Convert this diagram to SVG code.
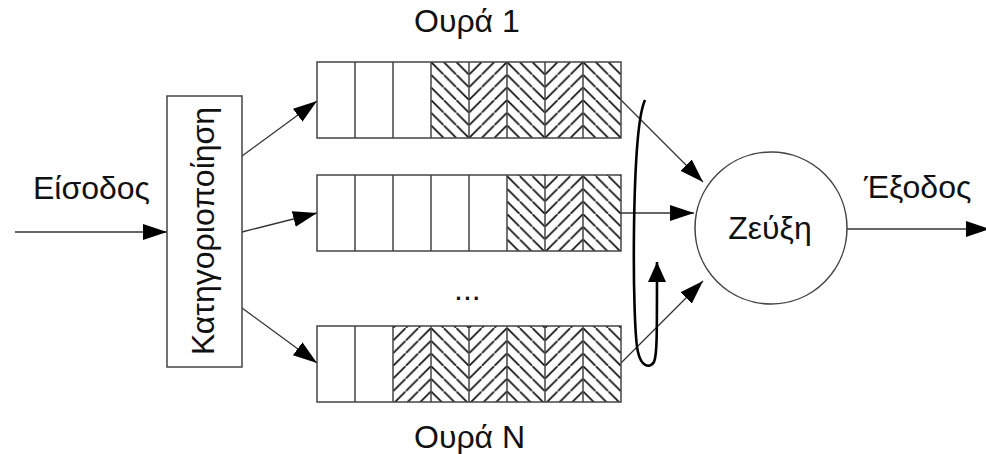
<svg xmlns="http://www.w3.org/2000/svg" width="986" height="454" viewBox="0 0 986 454">
<defs>
<style>
.lbl{font-family:"Liberation Sans",Arial,sans-serif;font-size:32px;fill:#111}
.box{fill:#fff;stroke:#444;stroke-width:1.5}
.cell{stroke:#444;stroke-width:1.5}
.ln{stroke:#333;stroke-width:1.3;fill:none}
.hb{fill:url(#hatchB)}
.hf{fill:url(#hatchF)}
</style>
<pattern id="hatchB" patternUnits="userSpaceOnUse" x="317" y="62" width="12.667" height="12.667">
<rect width="12.667" height="12.667" fill="#fff"/>
<line x1="-1" y1="-1" x2="13.667" y2="13.667" stroke="#111" stroke-width="1.7"/>
</pattern>
<pattern id="hatchF" patternUnits="userSpaceOnUse" x="317" y="62" width="12.667" height="12.667">
<rect width="12.667" height="12.667" fill="#fff"/>
<line x1="-1" y1="13.667" x2="13.667" y2="-1" stroke="#111" stroke-width="1.7"/>
</pattern>
<marker id="ah" markerUnits="userSpaceOnUse" markerWidth="26" markerHeight="18" refX="24" refY="8" orient="auto">
<path d="M0,0 L24,8 L0,16 z" fill="#000"/>
</marker>
<marker id="ahs" markerUnits="userSpaceOnUse" markerWidth="22" markerHeight="18" refX="20" refY="9" orient="auto">
<path d="M0,0 L20,9 L0,18 z" fill="#000"/>
</marker>
</defs>
<rect width="986" height="454" fill="#fff"/>

<g id="connectors">
<line class="ln" x1="15" y1="232" x2="167" y2="232" marker-end="url(#ah)"/>
<line class="ln" x1="242" y1="156" x2="317" y2="101" marker-end="url(#ah)"/>
<line class="ln" x1="242" y1="232" x2="317" y2="213" marker-end="url(#ah)"/>
<line class="ln" x1="242" y1="308" x2="317" y2="363" marker-end="url(#ah)"/>
<line class="ln" x1="621" y1="100" x2="703" y2="182" marker-end="url(#ah)"/>
<line class="ln" x1="621" y1="213" x2="694" y2="213" marker-end="url(#ah)"/>
<line class="ln" x1="621" y1="363" x2="703" y2="281" marker-end="url(#ah)"/>
<line class="ln" x1="847" y1="229" x2="990" y2="229" marker-end="url(#ah)"/>
<path d="M645,100 C631,130 632,330 638,352 C641,366 649,369 654,362 C657,355 657,340 657,262" fill="none" stroke="#000" stroke-width="2.6" marker-end="url(#ahs)"/>
</g>

<g id="input-label"><text class="lbl" x="33" y="199">Είσοδος</text></g>

<g id="classifier">
<rect class="box" x="167" y="96" width="75" height="271"/>
<text class="lbl" transform="translate(214,231) rotate(-90)" text-anchor="middle">Κατηγοριοποίηση</text>
</g>

<g id="queue1">
<rect class="hb" x="431" y="62" width="38" height="76"/>
<rect class="hf" x="469" y="62" width="38" height="76"/>
<rect class="hb" x="507" y="62" width="38" height="76"/>
<rect class="hf" x="545" y="62" width="38" height="76"/>
<rect class="hb" x="583" y="62" width="38" height="76"/>
<rect x="317" y="62" width="304" height="76" fill="none" class="cell"/>
<path class="cell" d="M355,62V138M393,62V138M431,62V138M469,62V138M507,62V138M545,62V138M583,62V138"/>
</g>

<g id="queue2">
<rect class="hb" x="507" y="175" width="38" height="76"/>
<rect class="hf" x="545" y="175" width="38" height="76"/>
<rect class="hb" x="583" y="175" width="38" height="76"/>
<rect x="317" y="175" width="304" height="76" fill="none" class="cell"/>
<path class="cell" d="M355,175V251M393,175V251M431,175V251M469,175V251M507,175V251M545,175V251M583,175V251"/>
</g>

<g id="queueN">
<rect class="hf" x="393" y="326" width="38" height="76"/>
<rect class="hb" x="431" y="326" width="38" height="76"/>
<rect class="hf" x="469" y="326" width="38" height="76"/>
<rect class="hb" x="507" y="326" width="38" height="76"/>
<rect class="hf" x="545" y="326" width="38" height="76"/>
<rect class="hb" x="583" y="326" width="38" height="76"/>
<rect x="317" y="326" width="304" height="76" fill="none" class="cell"/>
<path class="cell" d="M355,326V402M393,326V402M431,326V402M469,326V402M507,326V402M545,326V402M583,326V402"/>
</g>

<g id="labels">
<text class="lbl" x="414" y="32">Ουρά 1</text>
<text class="lbl" x="414" y="448">Ουρά N</text>
<text class="lbl" x="454" y="300">...</text>
</g>

<g id="merge">
<circle cx="771" cy="228" r="76" class="box"/>
<text class="lbl" x="770" y="239" text-anchor="middle">Ζεύξη</text>
</g>

<g id="output-label"><text class="lbl" x="864" y="198">Έξοδος</text></g>
</svg>
